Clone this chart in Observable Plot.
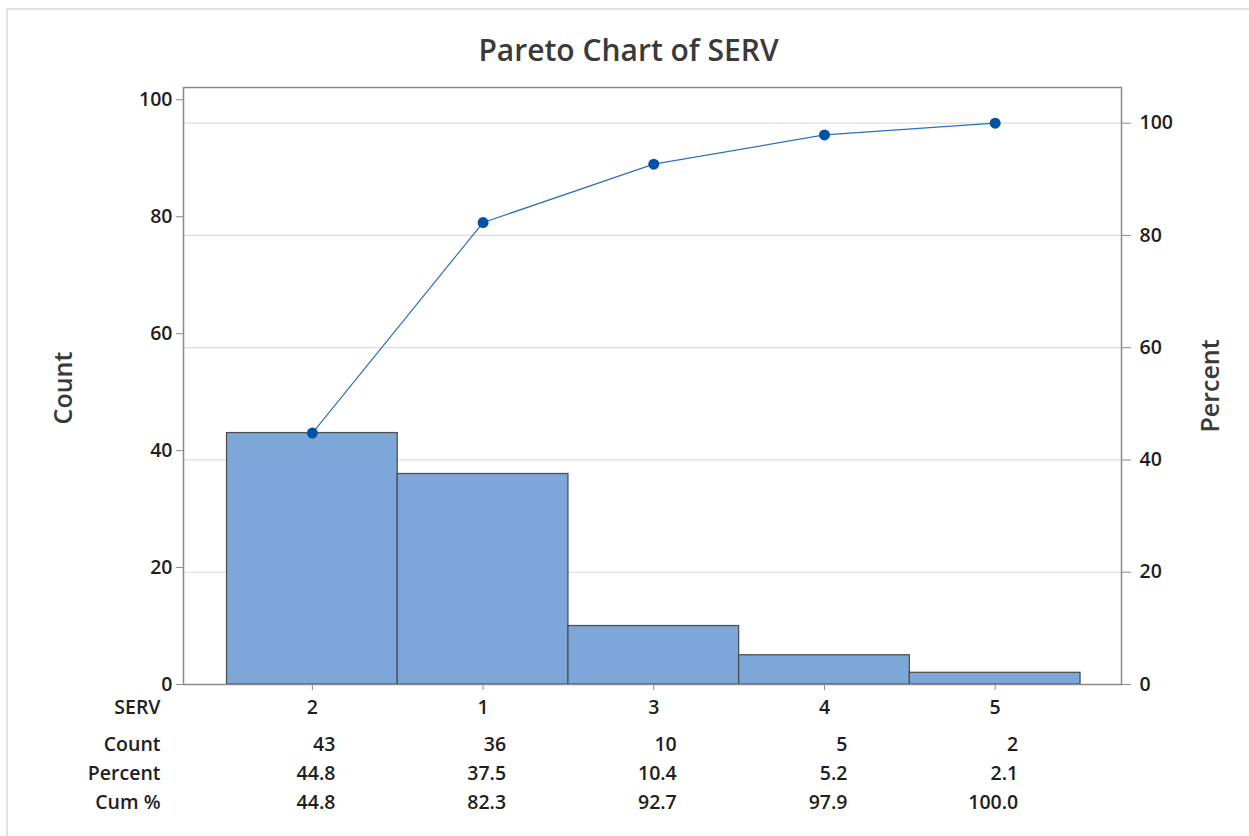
<!DOCTYPE html>
<html><head><meta charset="utf-8">
<script src="https://cdn.jsdelivr.net/npm/d3@7"></script>
<script src="https://cdn.jsdelivr.net/npm/@observablehq/plot@0.6"></script>
<style>
body{margin:0;background:#fff;}
#wrap{position:relative;width:1249px;height:836px;overflow:hidden;}
#border{position:absolute;left:6px;top:8px;right:-10px;bottom:-10px;border-top:2px solid #e2e2e2;border-left:2px solid #e2e2e2;}
#chart{position:absolute;left:0;top:0;}
</style></head><body>
<div id="wrap"><div id="border"></div><div id="chart"></div></div>
<script>
const title = "Pareto Chart of SERV";
const categories = ["2","1","3","4","5"];
const counts = [43,36,10,5,2];
const percents = [44.8,37.5,10.4,5.2,2.1];
const cumPercents = [44.8,82.3,92.7,97.9,100.0];
const countTicks = [0,20,40,60,80,100];
const percentTicks = [0,20,40,60,80,100];
const rowLabels = ["Count","Percent","Cum %"];

const total = d3.sum(counts);
const data = categories.map((c,i)=>({i, cat:c, count:counts[i], pct:percents[i], cum:cumPercents[i]}));
const pctToCount = p => p*total/100;
const font = "'Open Sans', 'Noto Sans', sans-serif";
const rowDy = [60, 89, 118];
const tableCells = [];
data.forEach(d=>{
  tableCells.push({i:d.i, row:0, text:String(d.count)});
  tableCells.push({i:d.i, row:1, text:d.pct.toFixed(1)});
  tableCells.push({i:d.i, row:2, text:d.cum.toFixed(1)});
});
const fs = 19.5;
const fw = 600;
const tc = "#1e1e1e";

const plot = Plot.plot({
  width:1249, height:836,
  marginTop:87, marginBottom:152, marginLeft:183, marginRight:128,
  style:{fontFamily:font, background:"transparent", color:tc},
  x:{domain:[-0.755,4.74], axis:null},
  y:{domain:[0,102.1], axis:null},
  marks:[
    Plot.gridY(percentTicks.map(pctToCount), {stroke:"#dcdcdc", strokeOpacity:1, strokeWidth:1.2}),
    Plot.rectY(data, {x1:d=>d.i-0.5, x2:d=>d.i+0.5, y:"count", fill:"#7CA7D8", stroke:"#505050", strokeWidth:1.3, insetLeft:0, insetRight:0}),
    Plot.line(data, {x:"i", y:d=>pctToCount(d.cum), stroke:"#2D70BE", strokeWidth:1.2}),
    Plot.dot(data, {x:"i", y:d=>pctToCount(d.cum), r:5.5, fill:"#0052A3", stroke:null}),
    Plot.frame({stroke:"#8a8a8a", strokeWidth:1.5}),
    Plot.axisY({anchor:"left", ticks:countTicks, tickSize:7, tickPadding:4, fontSize:fs, fontWeight:fw, label:null, stroke:"#8a8a8a", fill:tc}),
    Plot.axisY({anchor:"right", ticks:percentTicks.map(pctToCount), tickFormat:d=>String(Math.round(d*100/total)), tickSize:9, tickPadding:9, fontSize:fs, fontWeight:fw, label:null, stroke:"#8a8a8a", fill:tc}),
    Plot.axisX({ticks:data.map(d=>d.i), tickSize:6, tickFormat:()=>"", label:null, stroke:"#8a8a8a"}),
    // category labels
    Plot.text(data, {x:"i", text:"cat", frameAnchor:"bottom", dy:23, lineAnchor:"middle", fontSize:fs, fontWeight:fw, fill:tc}),
    Plot.text(["SERV"], {frameAnchor:"bottom-left", dx:-23, dy:23, textAnchor:"end", lineAnchor:"middle", fontSize:fs, fontWeight:fw, fill:tc}),
    // table
    ...rowLabels.map((lab,r)=>Plot.text([lab], {frameAnchor:"bottom-left", dx:-23, dy:rowDy[r], textAnchor:"end", lineAnchor:"middle", fontSize:fs, fontWeight:fw, fill:tc})),
    ...[0,1,2].map(r=>Plot.text(tableCells.filter(c=>c.row===r), {x:"i", text:"text", frameAnchor:"bottom", dx:23, dy:rowDy[r], textAnchor:"end", lineAnchor:"middle", fontSize:fs, fontWeight:fw, fill:tc})),
    // titles
    Plot.text([title], {frameAnchor:"top", dx:-24, dy:-36, lineAnchor:"middle", fontSize:30, fontWeight:600, fill:"#3a3a3a"}),
    Plot.text(["Count"], {frameAnchor:"left", dx:-120, dy:2, rotate:-90, textAnchor:"middle", lineAnchor:"middle", fontSize:25, fontWeight:600, fill:"#3a3a3a"}),
    Plot.text(["Percent"], {frameAnchor:"right", dx:89, dy:0, rotate:-90, textAnchor:"middle", lineAnchor:"middle", fontSize:25, fontWeight:600, fill:"#3a3a3a"})
  ]
});
document.getElementById("chart").appendChild(plot);
</script>
</body></html>
